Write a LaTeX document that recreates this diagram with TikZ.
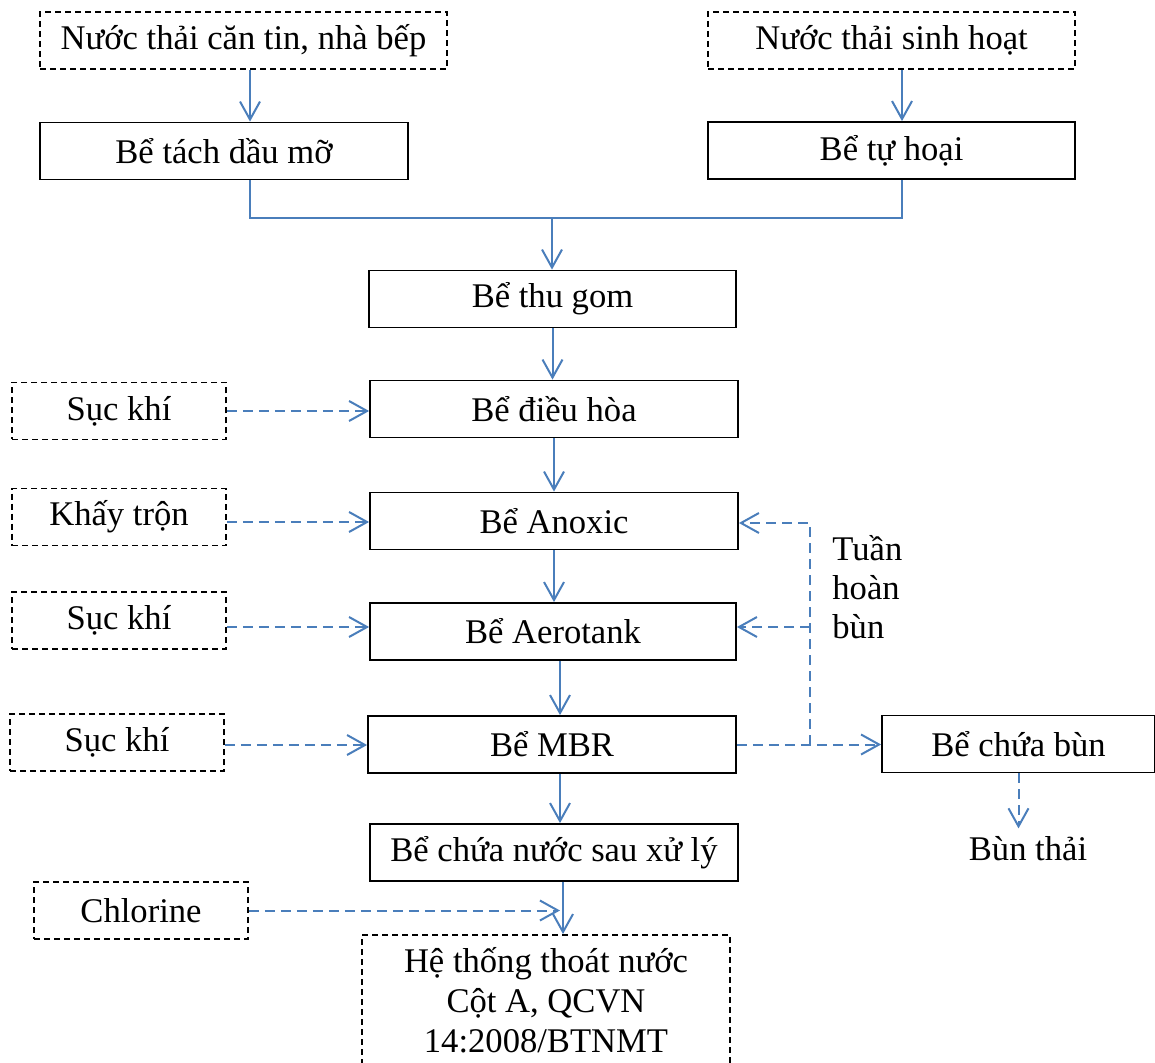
\documentclass[tikz,border=0pt]{standalone}
\usepackage{fontspec}
\setmainfont{Liberation Serif}
\usetikzlibrary{positioning}
\usetikzlibrary{arrows.meta}
\definecolor{pipeblue}{RGB}{74,126,187}

\begin{document}
\begin{tikzpicture}[x=0.5pt, y=-0.5pt, font=\fontsize{17.3}{20}\selectfont,
tank/.style ={draw, line width=0.9pt, minimum height=28.5pt, inner sep=0pt},
input/.style ={tank, dash pattern=on 3pt off 2pt},
pipe/.style ={pipeblue, line width=1pt},
flow/.style ={pipe, -{Straight Barb[length=9pt,width=10pt]}},
dflow/.style ={flow, dash pattern=on 5pt off 3pt}]
\useasboundingbox (0,0) rectangle (1155,1063);
\node[input, minimum width=203.5pt] (canteen) at (243.5,40.5) {Nước thải căn tin, nhà bếp};
\node[input, minimum width=183.5pt] (domestic) at (891.5,40.5) {Nước thải sinh hoạt};
\node[tank, minimum width=184pt] (grease) at (224,151) {Bể tách dầu mỡ};
\node[tank, minimum width=183.5pt] (septic) at (891.5,150.5) {Bể tự hoại};
\node[tank, minimum width=183.5pt] (collect) at (552.5,299) {Bể thu gom};
\node[tank, minimum width=184pt] (equal) at (554,409) {Bể điều hòa};
\node[tank, minimum width=184pt] (anoxic) at (554,521) {Bể Anoxic};
\node[tank, minimum width=183pt] (aero) at (553,631.5) {Bể Aerotank};
\node[tank, minimum width=184pt] (mbr) at (552,744.5) {Bể MBR};
\node[tank, minimum width=184pt] (clear) at (554,852.5) {Bể chứa nước sau xử lý};
\node[input, minimum width=184pt, minimum height=65pt, align=center] (outlet) at (546,1000)
  {Hệ thống thoát nước\\Cột A, QCVN\\14:2008/BTNMT};
\node[input, minimum width=107pt] (air1) at (119,411) {Sục khí};
\node[input, minimum width=107pt] (mixer) at (119,517) {Khấy trộn};
\node[input, minimum width=107pt] (air2) at (119,620.5) {Sục khí};
\node[input, minimum width=107pt] (air3) at (117,742.5) {Sục khí};
\node[input, minimum width=107pt] (chlor) at (141,910.5) {Chlorine};
\node[tank, minimum width=136.5pt] (sludge) at (1018.5,744) {Bể chứa bùn};
\node[inner sep=4pt] (waste) at (1028,849) {Bùn thải};
\node[anchor=west, align=left, inner sep=0pt, font=\fontsize{17.3}{19.5}\selectfont] (recyc) at (832,587) {Tuần\\hoàn\\bùn};
\coordinate (lt) at (250,218);
\coordinate (rt) at (902,218);
\coordinate (mid) at (552,218);
\coordinate (ret) at (810,745);
\coordinate (dose) at (560,908);
\draw[flow] (canteen.south -| lt) -- (grease.north -| lt);
\draw[flow] (domestic.south -| rt) -- (septic.north -| rt);
\draw[pipe] (grease.south -| lt) -- (lt) -- (rt) -- (septic.south -| rt);
\draw[flow] (mid) -- (collect.north -| mid);
\draw[flow] (collect.south) -- (collect.south |- equal.north);
\draw[flow] (equal.south) -- (equal.south |- anoxic.north);
\draw[flow] (anoxic.south) -- (anoxic.south |- aero.north);
\draw[flow] ([xshift=3.5pt]aero.south) -- ([xshift=3.5pt]aero.south |- mbr.north);
\draw[flow] ([xshift=4pt]mbr.south) -- ([xshift=4pt]mbr.south |- clear.north);
\draw[flow] ([xshift=4.5pt]clear.south) -- ([xshift=4.5pt]clear.south |- outlet.north);
\draw[dflow] (air1.east) -- (air1.east -| equal.west);
\draw[dflow] ([yshift=-2.5pt]mixer.east) -- ([yshift=-2.5pt]mixer.east -| anoxic.west);
\draw[dflow] ([yshift=-3.25pt]air2.east) -- ([yshift=-3.25pt]air2.east -| aero.west);
\draw[dflow] ([yshift=-1.25pt]air3.east) -- ([yshift=-1.25pt]air3.east -| mbr.west);
\draw[dflow] (chlor.east) -- (chlor.east -| dose);
\draw[dflow] (mbr.east) -- (mbr.east -| sludge.west);
\draw[dflow] (mbr.east -| ret) |- ([yshift=-1pt]anoxic.east);
\draw[dflow] ([yshift=2.25pt]aero.east -| ret) -- ([yshift=2.25pt]aero.east);
\draw[dflow] (sludge.south) -- (sludge.south |- waste.north);
\end{tikzpicture}
\end{document}
